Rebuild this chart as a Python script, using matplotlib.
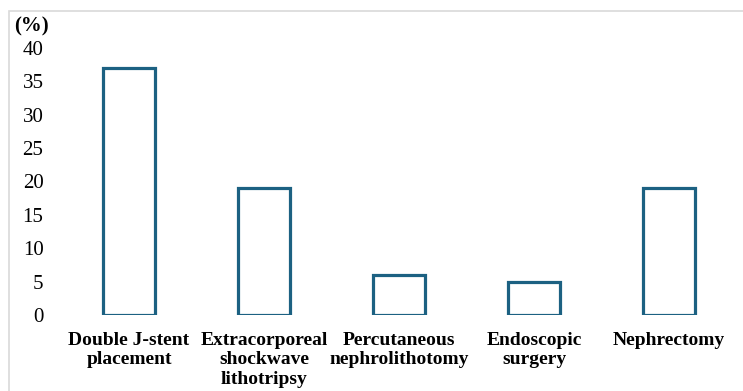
import matplotlib
matplotlib.use("Agg")
import matplotlib.pyplot as plt
from matplotlib.patches import Rectangle

categories = ["Double J-stent\nplacement", "Extracorporeal\nshockwave\nlithotripsy",
              "Percutaneous\nnephrolithotomy", "Endoscopic\nsurgery", "Nephrectomy"]
values = [37, 19, 6, 5, 19]
yticks = [0, 5, 10, 15, 20, 25, 30, 35, 40]

plt.rcParams["font.family"] = ["Liberation Serif", "DejaVu Serif"]

fig = plt.figure(figsize=(7.43, 3.91), dpi=100)
ax = fig.add_axes([61.5 / 743, 76 / 391, 675 / 743, 267 / 391])

x = list(range(len(categories)))
ax.bar(x, values, width=0.39, facecolor="white", edgecolor="#1c6182", linewidth=2.3)

ax.set_xlim(-0.5, len(categories) - 0.5)
ax.set_ylim(0, 40)
ax.set_yticks(yticks)
ax.set_yticklabels([str(t) for t in yticks], fontsize=15)
ax.set_xticks(x)
ax.set_xticklabels(categories, fontsize=14, fontweight="bold", linespacing=1.2)
ax.tick_params(length=0, axis="y", pad=13)
ax.tick_params(length=0, axis="x", pad=12)
for s in ax.spines.values():
    s.set_visible(False)

fig.text(14 / 743, 1 - 26 / 391, "(%)", fontsize=15, fontweight="bold", va="center", ha="left")

# light outer frame
fig.patches.append(Rectangle((9 / 743, -0.1), 1.2, 1 - 11 / 391 + 0.1,
                             transform=fig.transFigure, fill=False,
                             edgecolor="#d9d9d9", linewidth=1.2))

fig.savefig("out.png", dpi=100)
